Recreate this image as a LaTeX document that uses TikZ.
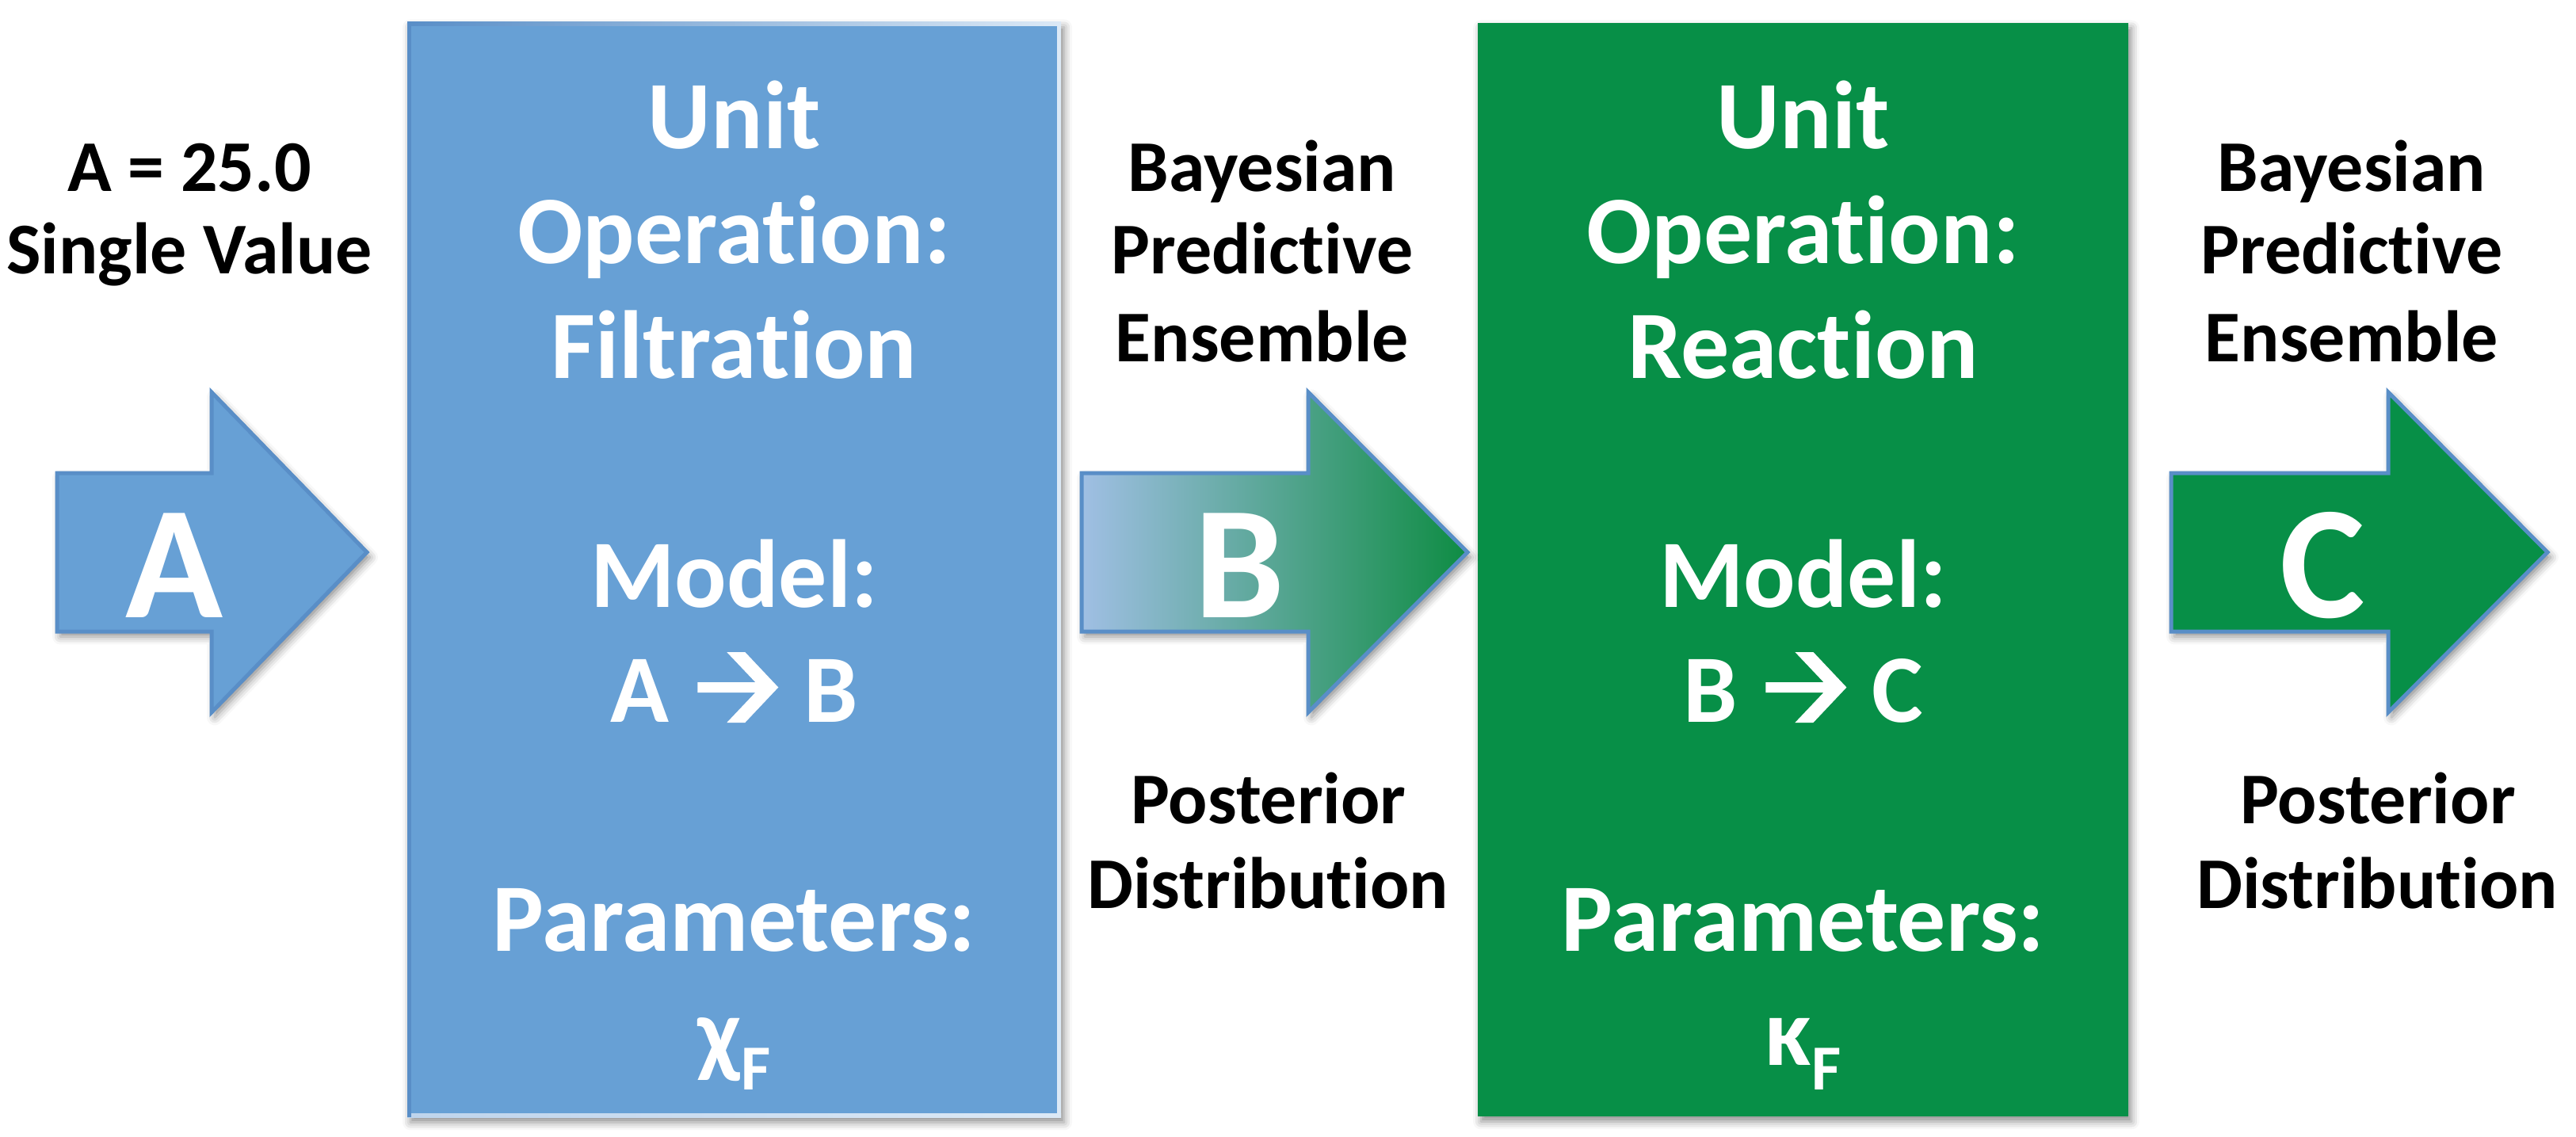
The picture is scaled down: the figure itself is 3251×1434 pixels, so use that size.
\documentclass[tikz,border=0pt]{standalone}
\usepackage{fontspec}
\setmainfont{Carlito}[RawFeature={-liga;-clig;-calt;-dlig;-hlig}]
\usetikzlibrary{shadows.blur}
\definecolor{boxblue}{RGB}{103,160,213}
\definecolor{lineblue}{RGB}{89,142,199}
\definecolor{boxgreen}{RGB}{7,143,71}
\definecolor{gradblue}{RGB}{160,191,228}
\definecolor{gradmid}{RGB}{88,164,138}
\definecolor{gradgreen}{RGB}{14,140,67}
\definecolor{edgelight}{RGB}{220,233,246}
\definecolor{edgemid}{RGB}{190,212,236}
\newcommand{\flowarrow}{\tikz[baseline=0pt,x=0.25pt,y=0.25pt]\fill[white] (0,37) -- (73,37) -- (37,-1) -- (60,-1) -- (102,43.5) -- (60,88) -- (37,88) -- (73,50) -- (0,50) -- cycle;}
\newcommand{\subF}{\raisebox{-7.75pt}{\fontsize{20.25}{24}\selectfont F}}
\newcommand{\ti}{t\kern0pt i}
\tikzset{
  dropshadow/.style={blur shadow={shadow xshift=1pt, shadow yshift=-1.6pt, shadow blur radius=2.5pt, shadow opacity=45}},
  blockarrow/.style={draw=lineblue, line width=1.25pt, line join=miter, dropshadow},
  boxtext/.style={text=white, font=\fontsize{30.5}{36}\selectfont\bfseries, anchor=base, inner sep=0pt},
  lbl/.style={text=black, font=\fontsize{23}{27}\selectfont\bfseries, anchor=base, inner sep=0pt},
  bigletter/.style={text=white, font=\fontsize{50.75}{60}\selectfont\bfseries, anchor=base, inner sep=0pt},
}
\begin{document}
\begin{tikzpicture}[x=0.25pt,y=-0.25pt]
\useasboundingbox (0,0) rectangle (3251,1434);
% boxes
\fill[boxblue, dropshadow] (514,28) rectangle (1339,1410);
\fill[left color=lineblue, right color=edgelight] (514,28) rectangle (1339,33);
\fill[left color=edgemid, right color=edgelight] (514,1405) rectangle (1339,1410);
\fill[lineblue] (514,28) rectangle (519,1410);
\fill[edgelight] (1334,28) rectangle (1339,1410);
\fill[boxgreen, dropshadow] (1865,29) rectangle (2686,1409);
% block arrows
\filldraw[blockarrow, fill=boxblue] (72,597) -- (267,597) -- (267,495) -- (463,697) -- (267,899) -- (267,797) -- (72,797) -- cycle;
\draw[blockarrow, left color=gradblue, middle color=gradmid, right color=gradgreen] (1365,597) -- (1651,597) -- (1651,495) -- (1852,697) -- (1651,899) -- (1651,797) -- (1365,797) -- cycle;
\filldraw[blockarrow, fill=boxgreen] (2740,597) -- (3014,597) -- (3014,495) -- (3215,697) -- (3014,899) -- (3014,797) -- (2740,797) -- cycle;
% arrow letters
\node[bigletter] (la) at (220,779) {A};
\node[bigletter] (lb) at (1564,779) {B};
\node[bigletter] (lc) at (2931,779) {C};
% box 1 text
\node[boxtext] (f1) at (926.5,188) {Unit};
\node[boxtext] (f2) at (926.5,332.6) {Opera\ti on:};
\node[boxtext] (f3) at (926.5,477.2) {Filtra\ti on};
\node[boxtext] (f4) at (926.5,766.4) {Model:};
\node[boxtext] (f5) at (926.5,911) {A\hspace{9pt}\flowarrow\hspace{8pt}B};
\node[boxtext] (f6) at (926.5,1200.2) {Parameters:};
\node[boxtext] (f7) at (926.5,1344.8) {χ\subF};
% box 2 text
\node[boxtext] (r1) at (2275.5,188) {Unit};
\node[boxtext] (r2) at (2275.5,332.6) {Opera\ti on:};
\node[boxtext] (r3) at (2275.5,477.2) {Reac\ti on};
\node[boxtext] (r4) at (2275.5,766.4) {Model:};
\node[boxtext] (r5) at (2275.5,911) {B\hspace{9pt}\flowarrow\hspace{8pt}C};
\node[boxtext] (r6) at (2275.5,1200.2) {Parameters:};
\node[boxtext] (r7) at (2275.5,1344.8) {κ\subF};
% outside labels
\node[lbl] (a1) at (239,241) {A = 25.0};
\node[lbl] (a2) at (239,345) {Single Value};
\node[lbl] (b1) at (1593,241) {Bayesian};
\node[lbl] (b2) at (1593,345) {Predic\ti ve};
\node[lbl] (b3) at (1593,456) {Ensemble};
\node[lbl] (b4) at (1601,1039) {Posterior};
\node[lbl] (b5) at (1600,1146) {Distribu\ti on};
\node[lbl] (c1) at (2968,241) {Bayesian};
\node[lbl] (c2) at (2968,345) {Predic\ti ve};
\node[lbl] (c3) at (2968,456) {Ensemble};
\node[lbl] (c4) at (3001,1039) {Posterior};
\node[lbl] (c5) at (3000,1146) {Distribu\ti on};
\end{tikzpicture}
\end{document}
